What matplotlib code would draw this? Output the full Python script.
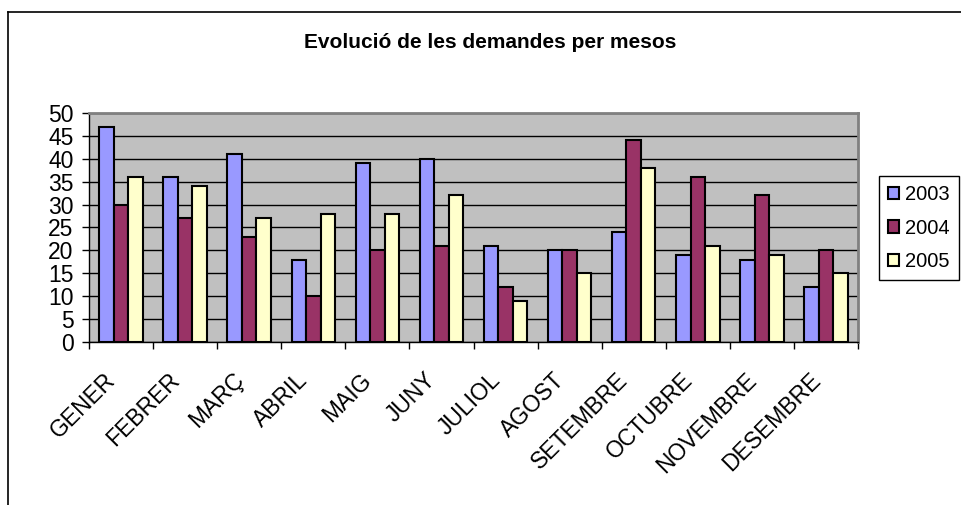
import numpy as np
import matplotlib.pyplot as plt
from matplotlib.lines import Line2D
from matplotlib.patches import Patch
from matplotlib.transforms import ScaledTranslation

# --- Data ---
mesos = ['GENER', 'FEBRER', 'MARÇ', 'ABRIL', 'MAIG', 'JUNY', 'JULIOL',
         'AGOST', 'SETEMBRE', 'OCTUBRE', 'NOVEMBRE', 'DESEMBRE']
anys = ['2003', '2004', '2005']
d2003 = [47, 36, 41, 18, 39, 40, 21, 20, 24, 19, 18, 12]
d2004 = [30, 27, 23, 10, 20, 21, 12, 20, 44, 36, 32, 20]
d2005 = [36, 34, 27, 28, 28, 32, 9, 15, 38, 21, 19, 15]
colors = ['#9999FF', '#993366', '#FFFFCC']

plt.rcParams['font.family'] = ['Liberation Sans', 'DejaVu Sans']

fig = plt.figure(figsize=(9.61, 5.05), dpi=100)
ax = fig.add_axes([89/961, 1-342/505, (858-89)/961, (342-113)/505])
ax.set_facecolor('#C0C0C0')

x = np.arange(len(mesos))
w = 0.226
for i, (vals, c) in enumerate(zip([d2003, d2004, d2005], colors)):
    ax.bar(x + (i-1)*w, vals, w, color=c, edgecolor='black', linewidth=1.5, zorder=3)

ax.set_xlim(-0.5, len(mesos)-0.5)
ax.set_ylim(0, 50)
ax.set_yticks(range(0, 51, 5))
ax.yaxis.grid(True, color='black', linewidth=1, zorder=1)
ax.tick_params(axis='y', labelsize=16.5, length=5, width=1, pad=6, direction='out')

ax.set_xticks(x)
ax.set_xticklabels(mesos, rotation=45, ha='right', va='center',
                   rotation_mode='anchor', fontsize=16.5)
ax.tick_params(axis='x', which='major', length=0, pad=25)
shift = ScaledTranslation(-9/100, 0, fig.dpi_scale_trans)
for lab in ax.get_xticklabels():
    lab.set_transform(lab.get_transform() + shift)
ax.set_xticks(np.arange(-0.5, len(mesos)), minor=True)
ax.tick_params(axis='x', which='minor', length=5, width=1, direction='out')

for s in ['top', 'right']:
    ax.spines[s].set_color('#808080')
    ax.spines[s].set_linewidth(2)
for s in ['left', 'bottom']:
    ax.spines[s].set_color('black')
    ax.spines[s].set_linewidth(1)

fig.text(490/961, 1-43/505, 'Evolució de les demandes per mesos',
         ha='center', va='center', fontsize=15, fontweight='bold')

handles = [Patch(facecolor=c, edgecolor='black', linewidth=1.5) for c in colors]
leg = fig.legend(handles, anys, loc='upper left', bbox_to_anchor=(879/961, 1-176/505),
                 borderaxespad=0, fontsize=14.5, handlelength=0.55, handleheight=0.55,
                 handletextpad=0.3, labelspacing=0.72, borderpad=0.45, fancybox=False,
                 framealpha=1)
leg.get_frame().set_edgecolor('black')
leg.get_frame().set_linewidth(1)

# chart area border (left and top only visible)
fig.add_artist(Line2D([8/961, 8/961], [0, 1-12/505], color='black', linewidth=1.2,
                      transform=fig.transFigure))
fig.add_artist(Line2D([8/961, 1], [1-12/505, 1-12/505], color='black', linewidth=1.2,
                      transform=fig.transFigure))

fig.savefig('out.png', dpi=100)
